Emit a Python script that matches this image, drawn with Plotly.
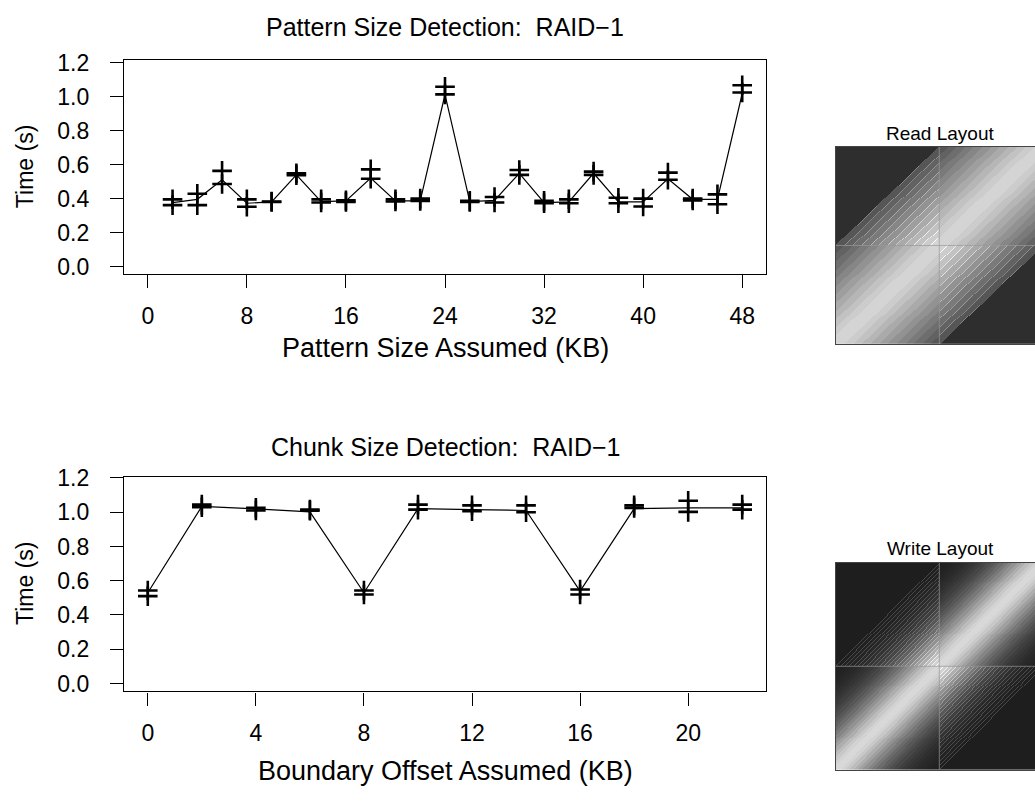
import numpy as np
import plotly.graph_objects as go

W, H = 1035, 809
FONT = "Liberation Sans, Arial, Helvetica, sans-serif"

# ---------------- data: pattern size detection ----------------
pattern_kb = [2, 4, 6, 8, 10, 12, 14, 16, 18, 20, 22, 24,
              26, 28, 30, 32, 34, 36, 38, 40, 42, 44, 46, 48]
pattern_run_hi = [0.396, 0.429, 0.563, 0.396, 0.383, 0.549, 0.396, 0.390, 0.572, 0.396, 0.400, 1.058,
                  0.387, 0.410, 0.568, 0.387, 0.396, 0.559, 0.405, 0.400, 0.553, 0.400, 0.425, 1.066]
pattern_run_lo = [0.362, 0.362, 0.486, 0.352, 0.380, 0.538, 0.377, 0.380, 0.517, 0.383, 0.387, 1.013,
                  0.381, 0.377, 0.540, 0.373, 0.373, 0.540, 0.373, 0.354, 0.511, 0.390, 0.367, 1.024]
pattern_avg = [0.377, 0.396, 0.511, 0.373, 0.381, 0.540, 0.383, 0.387, 0.521, 0.387, 0.387, 1.012,
               0.383, 0.390, 0.549, 0.377, 0.381, 0.549, 0.381, 0.381, 0.517, 0.396, 0.396, 1.018]
pattern_xticks = [0, 8, 16, 24, 32, 40, 48]

# ---------------- data: chunk size detection ----------------
offset_kb = [0, 2, 4, 6, 8, 10, 12, 14, 16, 18, 20, 22]
offset_run_hi = [0.543, 1.044, 1.025, 1.015, 0.543, 1.044, 1.040, 1.040, 0.549, 1.040, 1.067, 1.044]
offset_run_lo = [0.510, 1.029, 1.010, 1.008, 0.520, 1.015, 1.006, 1.000, 0.520, 1.025, 1.002, 1.015]
offset_avg = [0.530, 1.034, 1.019, 1.002, 0.530, 1.021, 1.015, 1.010, 0.539, 1.021, 1.025, 1.025]
offset_xticks = [0, 4, 8, 12, 16, 20]

time_ticks = [0.0, 0.2, 0.4, 0.6, 0.8, 1.0, 1.2]

# ---------------- data: layout images (gray level per diagonal band) ----------------
read_band_gray = [212, 204, 194, 182, 170, 158, 146, 134, 122, 110, 98, 86]
read_outside_gray = 46
write_band_gray = [216, 210, 200, 188, 174, 160, 146, 133, 120, 108, 97, 87,
                   78, 70, 63, 57, 52, 47, 43, 40, 37, 35, 33, 31]
write_outside_gray = 30
layout_split = 0.5


def px_x(px):
    return px / W


def px_y(py):
    return 1 - py / H


def layout_matrix(levels, outside, nx, ny, hatch_boost):
    xs = (np.arange(nx) + 0.5) / nx
    ys = (np.arange(ny) + 0.5) / ny
    X, Y = np.meshgrid(xs, ys)
    d = np.abs(X - Y)
    nb = len(levels)
    frac = d / 0.5 * nb
    band = np.floor(frac).astype(int)
    lv = np.array(levels, dtype=float)
    z = np.where(band < nb, lv[np.minimum(band, nb - 1)], float(outside))
    off = ((X < layout_split) & (Y > layout_split)) | ((X > layout_split) & (Y < layout_split))
    tol = 0.5 * (2 * nb / nx)
    near = (np.abs(frac - np.round(frac)) < tol) & (frac < nb + tol) & (frac > 0.5)
    z = np.where(off & near, np.minimum(z + hatch_boost, 255), z)
    return xs, ys, z


fig = go.Figure()

MARK = dict(symbol="cross-thin", size=14, color="black", line=dict(color="black", width=2.6))

# top chart
fig.add_trace(go.Scatter(x=pattern_kb, y=pattern_avg, mode="lines",
                         line=dict(color="black", width=1.2), xaxis="x", yaxis="y", showlegend=False))
for run in (pattern_run_hi, pattern_run_lo):
    fig.add_trace(go.Scatter(x=pattern_kb, y=run, mode="markers", marker=MARK,
                             xaxis="x", yaxis="y", showlegend=False))

# bottom chart
fig.add_trace(go.Scatter(x=offset_kb, y=offset_avg, mode="lines",
                         line=dict(color="black", width=1.2), xaxis="x2", yaxis="y2", showlegend=False))
for run in (offset_run_hi, offset_run_lo):
    fig.add_trace(go.Scatter(x=offset_kb, y=run, mode="markers", marker=MARK,
                             xaxis="x2", yaxis="y2", showlegend=False))

gray_scale = [[0, "rgb(0,0,0)"], [1, "rgb(255,255,255)"]]

rx, ry, rz = layout_matrix(read_band_gray, read_outside_gray, 207, 202, 45)
fig.add_trace(go.Heatmap(x=rx, y=ry, z=rz, colorscale=gray_scale, zmin=0, zmax=255,
                         showscale=False, hoverinfo="skip", xaxis="x3", yaxis="y3"))
wx, wy, wz = layout_matrix(write_band_gray, write_outside_gray, 207, 211, 40)
fig.add_trace(go.Heatmap(x=wx, y=wy, z=wz, colorscale=gray_scale, zmin=0, zmax=255,
                         showscale=False, hoverinfo="skip", xaxis="x4", yaxis="y4"))

TICKSIZE = 23
axis_common = dict(showline=True, mirror=True, linecolor="black", linewidth=1.2,
                   ticks="outside", ticklen=13, tickwidth=1.2, tickcolor="black",
                   showgrid=False, zeroline=False,
                   tickfont=dict(family=FONT, size=TICKSIZE, color="black"))

line_x0, line_x1 = 124, 766
fig.update_layout(
    width=W, height=H, margin=dict(l=0, r=0, t=0, b=0),
    paper_bgcolor="white", plot_bgcolor="white",
    font=dict(family=FONT, color="black"),
    xaxis=dict(domain=[px_x(line_x0), px_x(line_x1)], range=[-1.92, 49.92],
               tickvals=pattern_xticks, anchor="y", ticklabelstandoff=8, **axis_common),
    yaxis=dict(domain=[px_y(268), px_y(49)], range=[-0.045, 1.215],
               tickvals=time_ticks, tickformat=".1f", anchor="x", ticklabelstandoff=16, **axis_common),
    xaxis2=dict(domain=[px_x(line_x0), px_x(line_x1)], range=[-0.88, 22.88],
                tickvals=offset_xticks, anchor="y2", ticklabelstandoff=8, **axis_common),
    yaxis2=dict(domain=[px_y(694), px_y(474.7)], range=[-0.046, 1.207],
                tickvals=time_ticks, tickformat=".1f", anchor="x2", ticklabelstandoff=16, **axis_common),
    xaxis3=dict(domain=[px_x(836), 1.0], range=[0, (W - 836) / 206.6], anchor="y3",
                showline=True, mirror=True, linecolor="#444444", linewidth=1,
                showticklabels=False, ticks="", showgrid=False, zeroline=False),
    yaxis3=dict(domain=[px_y(339.3), px_y(137.7)], range=[0, 1], anchor="x3",
                showline=True, mirror=False, linecolor="#444444", linewidth=1,
                showticklabels=False, ticks="", showgrid=False, zeroline=False),
    xaxis4=dict(domain=[px_x(836), 1.0], range=[0, (W - 836) / 206.6], anchor="y4",
                showline=True, mirror=True, linecolor="#444444", linewidth=1,
                showticklabels=False, ticks="", showgrid=False, zeroline=False),
    yaxis4=dict(domain=[px_y(774), px_y(562.7)], range=[0, 1], anchor="x4",
                showline=True, mirror=False, linecolor="#444444", linewidth=1,
                showticklabels=False, ticks="", showgrid=False, zeroline=False),
)

# center cross lines on the layout images
for xr, yr in (("x3", "y3"), ("x4", "y4")):
    fig.add_shape(type="line", xref=xr, yref=yr, x0=layout_split, x1=layout_split, y0=0, y1=1,
                  line=dict(color="#9a9a9a", width=0.7), layer="above")
    fig.add_shape(type="line", xref=xr, yref=yr, x0=0, x1=1, y0=layout_split, y1=layout_split,
                  line=dict(color="#9a9a9a", width=0.7), layer="above")

cx = (line_x0 + line_x1) / 2
texts = [
    ("Pattern Size Detection:  RAID\u22121", cx, 15, 25, 0),
    ("Pattern Size Assumed (KB)", cx, 343, 27, 0),
    ("Time (s)", 25, (49 + 268) / 2, 23, -90),
    ("Chunk Size Detection:  RAID\u22121", cx, 444, 25, 0),
    ("Boundary Offset Assumed (KB)", cx, 775, 27, 0),
    ("Time (s)", 25, (474.7 + 694) / 2, 23, -90),
    ("Read Layout", 940, 124, 19, 0),
    ("Write Layout", 940, 548, 19, 0),
]
for t, x, y, s, ang in texts:
    fig.add_annotation(text=t, x=px_x(x), y=px_y(y), xref="paper", yref="paper",
                       xanchor="center", yanchor="middle", showarrow=False, textangle=ang,
                       font=dict(family=FONT, size=s, color="black"))

fig.write_html("out.html")
